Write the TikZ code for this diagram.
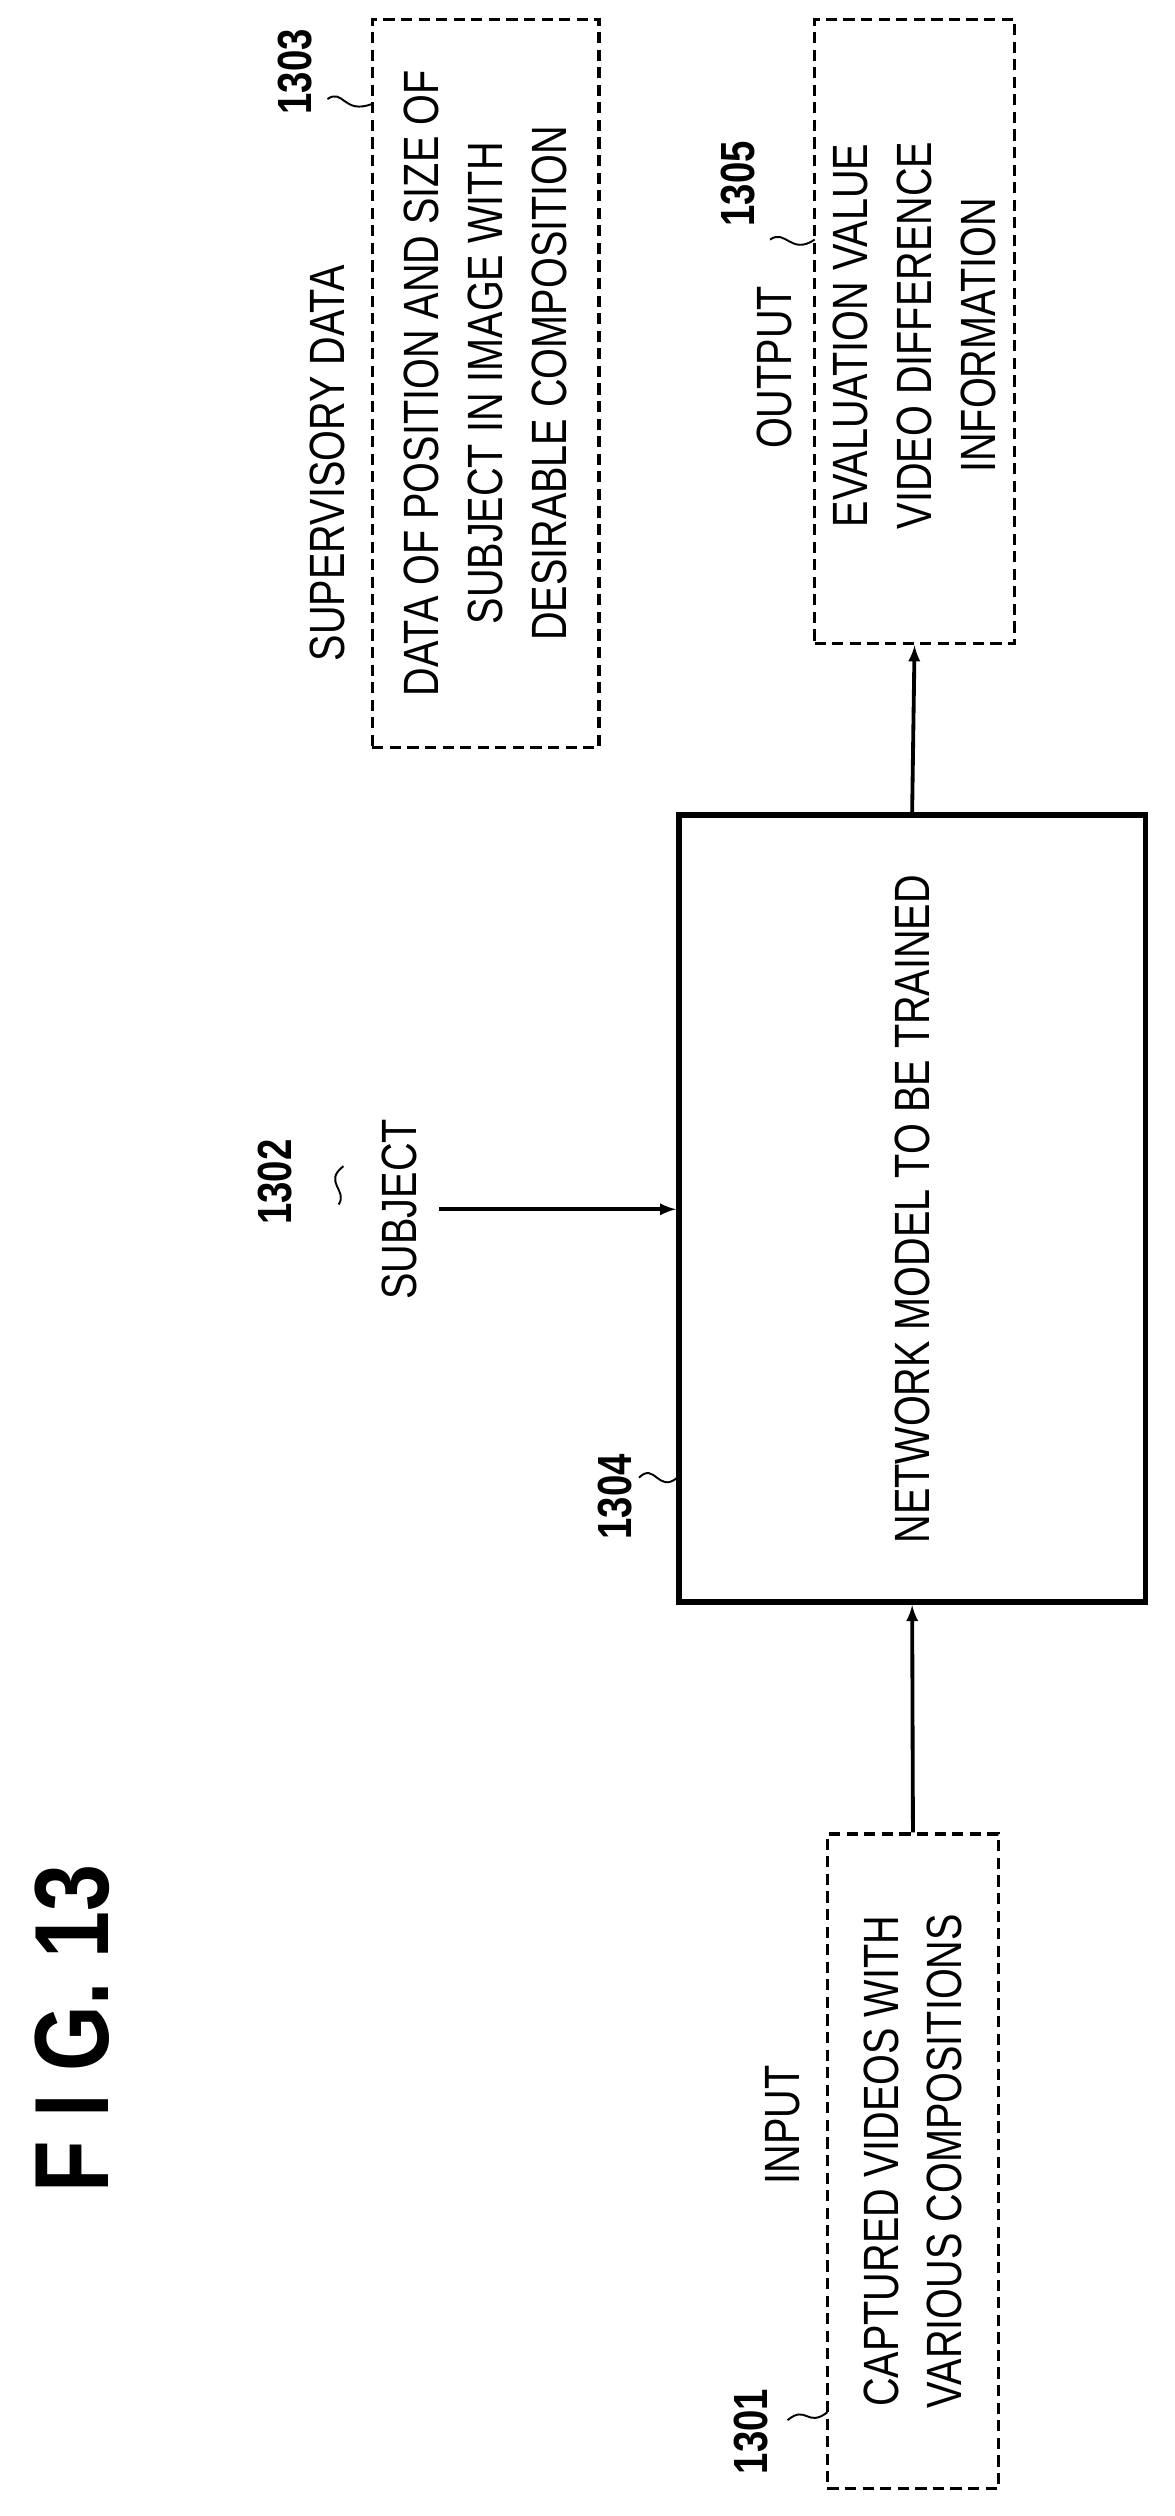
\documentclass[tikz,border=0pt]{standalone}
\usepackage{fontspec}
\setmainfont{Liberation Sans}[FakeStretch=0.8]
\begin{document}
\begin{tikzpicture}[x=1pt,y=-1pt,
  txt/.style={rotate=90,font=\fontsize{31}{40}\selectfont,align=center,inner sep=0},
  num/.style={rotate=90,font=\fontsize{30}{36}\selectfont\bfseries,inner sep=0},
  dbox/.style={draw,line width=2pt,dash pattern=on 7pt off 4pt},
  arr/.style={-latex,line width=2.4pt},
  sq/.style={line width=1.2pt}]
\useasboundingbox (0,0) rectangle (735,1575);
\node[rotate=90,font=\fontsize{66}{80}\selectfont\bfseries,inner sep=0] (fig) at (45,1270) {F I G. 13};
% input
\node[dbox,minimum width=107pt,minimum height=410pt] (in) at (571.5,1353) {};
\node[txt] (intx) at (571.5,1353) {CAPTURED VIDEOS WITH\\VARIOUS COMPOSITIONS};
\node[txt] (inl) at (490,1330) {INPUT};
\node[num] (n1301) at (470,1522) {1301};
\coordinate (s1a) at (493,1515); \coordinate (s1b) at (518,1510);
\draw[sq] (s1a) .. controls (505,1505) and (505,1520) .. (s1b);
% model
\node[draw,line width=3.6pt,minimum width=292pt,minimum height=493pt] (net) at (571,756.5) {};
\node[txt] (nettx) at (571,757) {NETWORK MODEL TO BE TRAINED};
\node[num] (n1304) at (385,937) {1304};
\coordinate (s4a) at (400,925); \coordinate (s4b) at (424,925);
\draw[sq] (s4a) .. controls (410,915) and (412,935) .. (s4b);
\draw[arr] (in.north) -- (net.south);
% subject
\node[txt] (subj) at (250,757) {SUBJECT};
\coordinate (sj) at (275,757);
\draw[arr] (sj) -- (net.west |- sj);
\node[num] (n1302) at (172,740) {1302};
\draw[sq] (215,730) .. controls (202,740) and (218,745) .. (212,754);
% supervisory
\node[dbox,minimum width=142pt,minimum height=456pt] (sup) at (304,240) {};
\node[txt] (suptx) at (304,240) {DATA OF POSITION AND SIZE OF\\SUBJECT IN IMAGE WITH\\DESIRABLE COMPOSITION};
\node[txt] (supl) at (205,290) {SUPERVISORY DATA};
\node[num] (n1303) at (185,45) {1303};
\draw[sq] (205,62) .. controls (215,55) and (215,72) .. (233,65);
% output
\node[dbox,minimum width=125pt,minimum height=391pt] (out) at (572.5,207.5) {};
\node[txt] (outtx) at (572.5,210) {EVALUATION VALUE\\VIDEO DIFFERENCE\\INFORMATION};
\node[txt] (outl) at (485,230) {OUTPUT};
\node[num] (n1305) at (462,115) {1305};
\draw[sq] (482,150) .. controls (492,143) and (495,160) .. (510,150);
\draw[arr] (net.north) -- (out.south);
\end{tikzpicture}
\end{document}
